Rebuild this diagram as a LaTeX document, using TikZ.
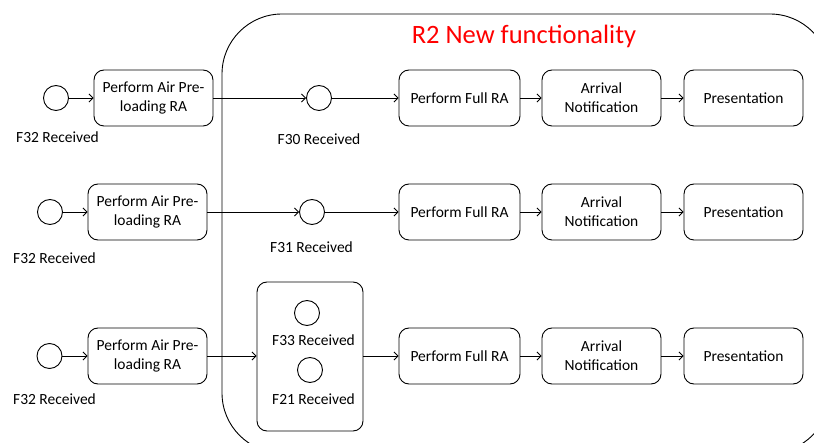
\documentclass[tikz,border=0pt]{standalone}
\usepackage{fontspec}
\setmainfont{Carlito}
\usetikzlibrary{arrows.meta}
\tikzset{
  actbox/.style={draw, line width=0.9pt, rounded corners=10pt, minimum height=56pt, minimum width=119pt, inner sep=0pt, align=center, font=\fontsize{15.5}{19}\selectfont},
  evt/.style={draw, line width=0.9pt, circle, minimum size=25pt, inner sep=0pt},
  lbl/.style={anchor=base, inner sep=0pt, font=\fontsize{15.5}{19}\selectfont},
  flow/.style={line width=0.9pt, -{Straight Barb[length=4pt,width=8pt]}},
}
\begin{document}
\begin{tikzpicture}[x=1pt,y=-1pt]
\useasboundingbox (0,0) rectangle (814,443);
\begin{scope}
\clip (0,0) rectangle (814,443);
\draw[line width=0.9pt, rounded corners=60pt] (222,14) rectangle (830,453);
\end{scope}
\node[anchor=base, inner sep=0pt, text=red, font=\fontsize{26.5}{30}\selectfont] (title) at (524,44) {R2 New functionality};

% Row 1
\node[evt] (s1) at (56,98) {};
\node[lbl] (s1l) at (57.5,142.5) {F32 Received};
\node[actbox] (a1) at (153.5,98) {Perform Air Pre-\\loading RA};
\node[evt] (e1) at (319,98) {};
\node[lbl] (e1l) at (319,145) {F30 Received};
\node[actbox, minimum width=121pt] (f1) at (459.5,98) {Perform Full RA};
\node[actbox] (n1) at (601.5,98) {Arrival\\Notification};
\node[actbox] (p1) at (743.5,98) {Presentation};
\draw[flow] (s1) -- (a1);
\draw[flow] (a1) -- (e1);
\draw[flow] (e1) -- (f1);
\draw[flow] (f1) -- (n1);
\draw[flow] (n1) -- (p1);

% Row 2
\node[evt] (s2) at (50,212) {};
\node[lbl] (s2l) at (54.5,264) {F32 Received};
\node[actbox] (a2) at (147.5,212) {Perform Air Pre-\\loading RA};
\node[evt] (e2) at (312,212) {};
\node[lbl] (e2l) at (311.5,253) {F31 Received};
\node[actbox, minimum width=121pt] (f2) at (459.5,212) {Perform Full RA};
\node[actbox] (n2) at (601.5,212) {Arrival\\Notification};
\node[actbox] (p2) at (743.5,212) {Presentation};
\draw[flow] (s2) -- (a2);
\draw[flow] (a2) -- (e2);
\draw[flow] (e2) -- (f2);
\draw[flow] (f2) -- (n2);
\draw[flow] (n2) -- (p2);

% Row 3
\node[evt] (s3) at (49.5,356) {};
\node[lbl] (s3l) at (54.5,405) {F32 Received};
\node[actbox] (a3) at (147.5,356) {Perform Air Pre-\\loading RA};
\node[draw, line width=0.9pt, rounded corners=10pt, minimum width=106pt, minimum height=149pt, inner sep=0pt] (grp) at (310,356.5) {};
\node[evt] (e3) at (307,313) {};
\node[lbl] (e3l) at (313.5,346) {F33 Received};
\node[evt] (e4) at (310,370) {};
\node[lbl] (e4l) at (313.5,405) {F21 Received};
\node[actbox, minimum width=121pt] (f3) at (459.5,356) {Perform Full RA};
\node[actbox] (n3) at (601.5,356) {Arrival\\Notification};
\node[actbox] (p3) at (743.5,356) {Presentation};
\draw[flow] (s3) -- (a3);
\draw[flow] (a3.east) -- (a3.east -| grp.west);
\draw[flow] (grp.east |- f3.west) -- (f3);
\draw[flow] (f3) -- (n3);
\draw[flow] (n3) -- (p3);
\end{tikzpicture}
\end{document}
